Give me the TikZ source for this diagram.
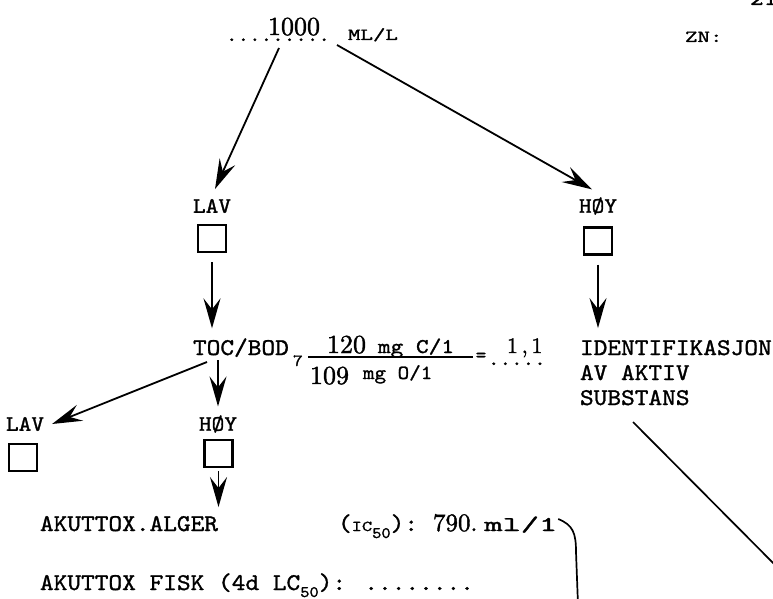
\documentclass[tikz,border=0pt]{standalone}
\usepackage{fontspec}
\usepackage{graphicx}
\usetikzlibrary{arrows.meta}
\newfontface\twface{lmmono10-regular.otf}[FakeBold=1.2]
\newfontface\rmface{lmroman10-regular.otf}[FakeBold=1.5]
\newcommand\twf[3]{\scalebox{#2}[1]{\fontsize{#1}{#1}\twface #3}}
\newcommand\rmf[2]{{\fontsize{#1}{#1}\rmface #2}}
\begin{document}
\begin{tikzpicture}[x=1pt,y=-1pt,
  every node/.style={inner sep=0pt, outer sep=0pt},
  arr/.style={line width=1.8pt, -{Stealth[length=30pt,width=17pt,inset=11pt]}},
  ln/.style={line width=1.7pt},
  box/.style={draw, line width=2.3pt, minimum width=28pt, minimum height=27pt},
  lbl/.style={anchor=base west}]
\useasboundingbox (0,0) rectangle (773,599);
\fill[white] (0,0) rectangle (773,599);

% top row
\node[lbl] (dots) at (226,41) {\twf{20}{1.1}{.........}};
\node[lbl] (n1000) at (268,35) {\rmf{26}{1000}};
\node[lbl] (mll) at (348,40) {\twf{17}{1.4}{ML/L}};
\node[lbl] (zn) at (685,42) {\twf{17}{1.4}{ZN:}};
\node[lbl] (pg) at (750,5) {\twf{24}{1.087}{21}};

% first level
\node (lav1) at (212,206) {\twf{22}{1.1}{LAV}};
\node[box] (lbox1) at (212,238.5) {};
\node (hoy1) at (598,206) {\twf{22}{1.1}{HØY}};
\node[box] (hbox1) at (598,241) {};

\coordinate (s1) at ([shift={(53pt,-7pt)}]dots.base west);
\coordinate (s2) at ([shift={(111pt,-4pt)}]dots.base west);
\draw[arr] (s1) -- ([shift={(3pt,10pt)}]lav1.north);
\draw[arr] (s2) -- ([shift={(-6pt,8pt)}]hoy1.north);

% second level
\node[lbl] (toc) at (193,355) {\twf{24}{1.087}{TOC/BOD}};
\node[lbl] (sub7) at (293,366) {\twf{17}{1.1}{7}};
\node[lbl] (num) at (327,353) {\rmf{26}{120}\hspace{12pt}\twf{21}{1.15}{mg C/1}};
\node[lbl] (den) at (310,384) {\rmf{26}{109}\hspace{14pt}\raisebox{5pt}{\twf{20}{1.1}{mg O/1}}};
\draw[line width=1.3pt] (308,357) -- (473,357);
\node (eq) at (481,357) {\twf{20}{1.0}{=}};
\node[lbl] (res) at (507,353) {\rmf{22}{1\,,\,1}};
\node[lbl] (resdots) at (488,365) {\twf{20}{1.1}{.....}};

\node[lbl] (ident) at (580,355) {\twf{24}{1.087}{IDENTIFIKASJON}};
\node[lbl] (avakt) at (580,380) {\twf{24}{1.087}{AV AKTIV}};
\node[lbl] (subst) at (580,405) {\twf{24}{1.087}{SUBSTANS}};

\draw[arr] ([yshift=-10pt]lbox1.south) -- ([yshift=10pt]lbox1.south |- toc.north);
\draw[arr] ([yshift=-10pt]hbox1.south) -- ([yshift=12pt]hbox1.south |- ident.north);

% third level
\node (lav2) at (25,424) {\twf{22}{1.1}{LAV}};
\node[box] (lbox2) at (23,457.5) {};
\node (hoy2) at (218,424) {\twf{22}{1.1}{HØY}};
\node[box] (hbox2) at (218.5,453.5) {};

\draw[arr] ([shift={(14pt,-7pt)}]toc.base west) -- ([xshift=8pt]lav2.east);
\draw[arr] ([yshift=-5pt]hoy2.north |- toc.base) -- ([yshift=9pt]hoy2.north);

% bottom
\node[lbl] (akalg) at (40,531) {\twf{24}{1.087}{AKUTTOX.ALGER}};
\node[lbl] (ic) at (338,531) {\twf{24}{1.087}{(}\twf{15}{1.3}{IC}\raisebox{-7pt}{\twf{16}{1.1}{50}}\twf{24}{1.087}{):}};
\node[lbl] (val) at (433,531) {\rmf{25}{790.}\hspace{7pt}\twf{21}{1.65}{ml/1}};
\draw[arr] ([yshift=-4pt]hbox2.south) -- ([yshift=9pt]hbox2.south |- akalg.north);

\node[lbl] (fisk) at (40,590) {\twf{24}{1.087}{AKUTTOX FISK (4d LC}\raisebox{-7pt}{\twf{16}{1.1}{50}}\twf{24}{1.087}{): ........}};

% bracket and long line
\coordinate (bt) at ([shift={(1pt,12pt)}]val.base east);
\coordinate (bb) at (578,605);
\draw[ln] (bt) .. controls (573,525) and (576,533) .. (576,552) -- (bb);
\coordinate (offR) at (795,585);
\draw[ln] ([shift={(53pt,-17pt)}]subst.base west) -- (offR);
\end{tikzpicture}
\end{document}
